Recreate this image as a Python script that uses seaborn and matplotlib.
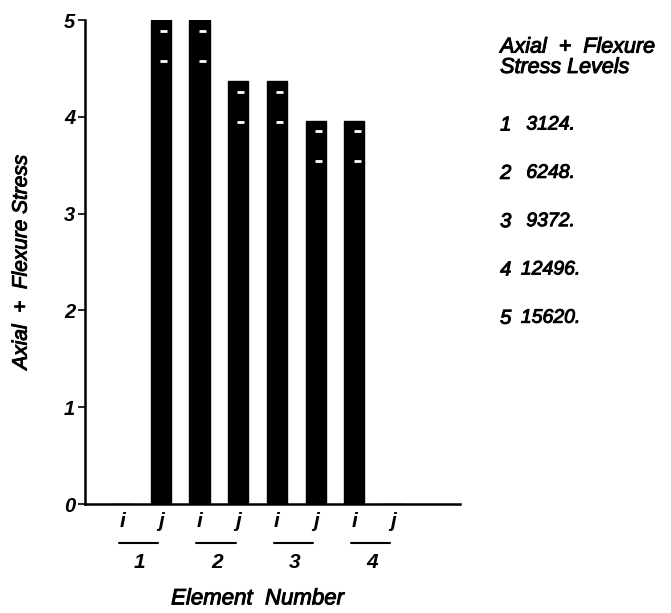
import matplotlib
matplotlib.use("Agg")
import matplotlib.pyplot as plt
import matplotlib.patheffects as pe
import seaborn as sb
import pandas as pd
import numpy as np

# bar heights (stress level units) for each element end i / j
elements = ['1', '2', '3', '4']
ends = ['i', 'j']
stress = [0.0, 5.0, 5.0, 4.37, 4.37, 3.96, 3.96, 0.0]
# white dash marks, offset below the bar top
dash_offsets = [0.11, 0.42]
level_ids = [1, 2, 3, 4, 5]
level_vals = ['3124.', '6248.', '9372.', '12496.', '15620.']

slots = [e + k for e in elements for k in ends]
df = pd.DataFrame({'slot': slots, 'stress': stress})

sb.set_theme(style='ticks')
plt.rcParams['font.family'] = ['Liberation Sans', 'DejaVu Sans']
plt.rcParams['text.color'] = 'black'
plt.rcParams['axes.labelcolor'] = 'black'
plt.rcParams['xtick.color'] = 'black'
plt.rcParams['ytick.color'] = 'black'

heavy = [pe.withStroke(linewidth=0.7, foreground='black')]

fig = plt.figure(figsize=(6.71, 6.13), dpi=100)
ax = fig.add_axes([85/671, 109/613, 375/671, 484/613])

sb.barplot(data=df, x='slot', y='stress', color='black', width=0.52,
           saturation=1, ax=ax, order=slots)
for p in ax.patches:
    p.set_edgecolor('black')

# white dashes on each nonzero bar
for pos, h in enumerate(stress):
    if h <= 0:
        continue
    for off in dash_offsets:
        ax.hlines(h - off, pos - 0.02, pos + 0.16, colors='white', lw=2)

ax.set_xlim(-0.96, 8.73)
ax.set_ylim(0, 5)
ax.set_yticks([0, 1, 2, 3, 4, 5])
ax.set_yticklabels(['0', '1', '2', '3', '4', '5'], fontsize=14.5,
                   fontweight='bold', fontstyle='italic')
ax.tick_params(axis='y', length=5, width=1.2, color='black', pad=2)
ax.set_xticks(range(len(slots)))
ax.set_xticklabels([k for e in elements for k in ends], fontsize=15,
                   fontweight='bold', fontstyle='italic')
ax.tick_params(axis='x', length=0, pad=6)
sb.despine(ax=ax)
for s in ['left', 'bottom']:
    ax.spines[s].set_linewidth(1.8)
    ax.spines[s].set_color('black')

tr = ax.get_xaxis_transform()
for n, e in enumerate(elements):
    x0 = 2 * n
    ax.plot([x0 - 0.08, x0 + 0.93], [-0.0806, -0.0806], color='black',
            lw=1.5, transform=tr, clip_on=False)
    ax.text(x0 + 0.45, -0.12, e, transform=tr, ha='center', va='center',
            fontsize=15, fontweight='bold', fontstyle='italic')

ax.set_xlabel('')
ax.text(3.5, -0.196, 'Element  Number', transform=tr, ha='center',
        va='center', fontsize=16, fontstyle='italic', path_effects=heavy)
ax.set_ylabel('Axial  +  Flexure Stress', fontsize=15, fontstyle='italic',
              path_effects=heavy)
ax.yaxis.set_label_coords(-0.145, 0.5)

ax.text(1.107, 0.944, 'Axial  +  Flexure', transform=ax.transAxes,
        fontsize=15.5, fontstyle='italic', va='center', path_effects=heavy)
ax.text(1.107, 0.902, 'Stress Levels', transform=ax.transAxes,
        fontsize=15.5, fontstyle='italic', va='center', path_effects=heavy)
for k, (lid, val) in enumerate(zip(level_ids, level_vals)):
    y = 0.783 - 0.0998 * k
    ax.text(1.107, y, str(lid), transform=ax.transAxes, fontsize=14.5,
            fontstyle='italic', va='center', path_effects=heavy)
    ax.text(1.242, y, val, transform=ax.transAxes, fontsize=14,
            fontstyle='italic', va='center', ha='center', path_effects=heavy)

fig.savefig('out.png', dpi=100)
